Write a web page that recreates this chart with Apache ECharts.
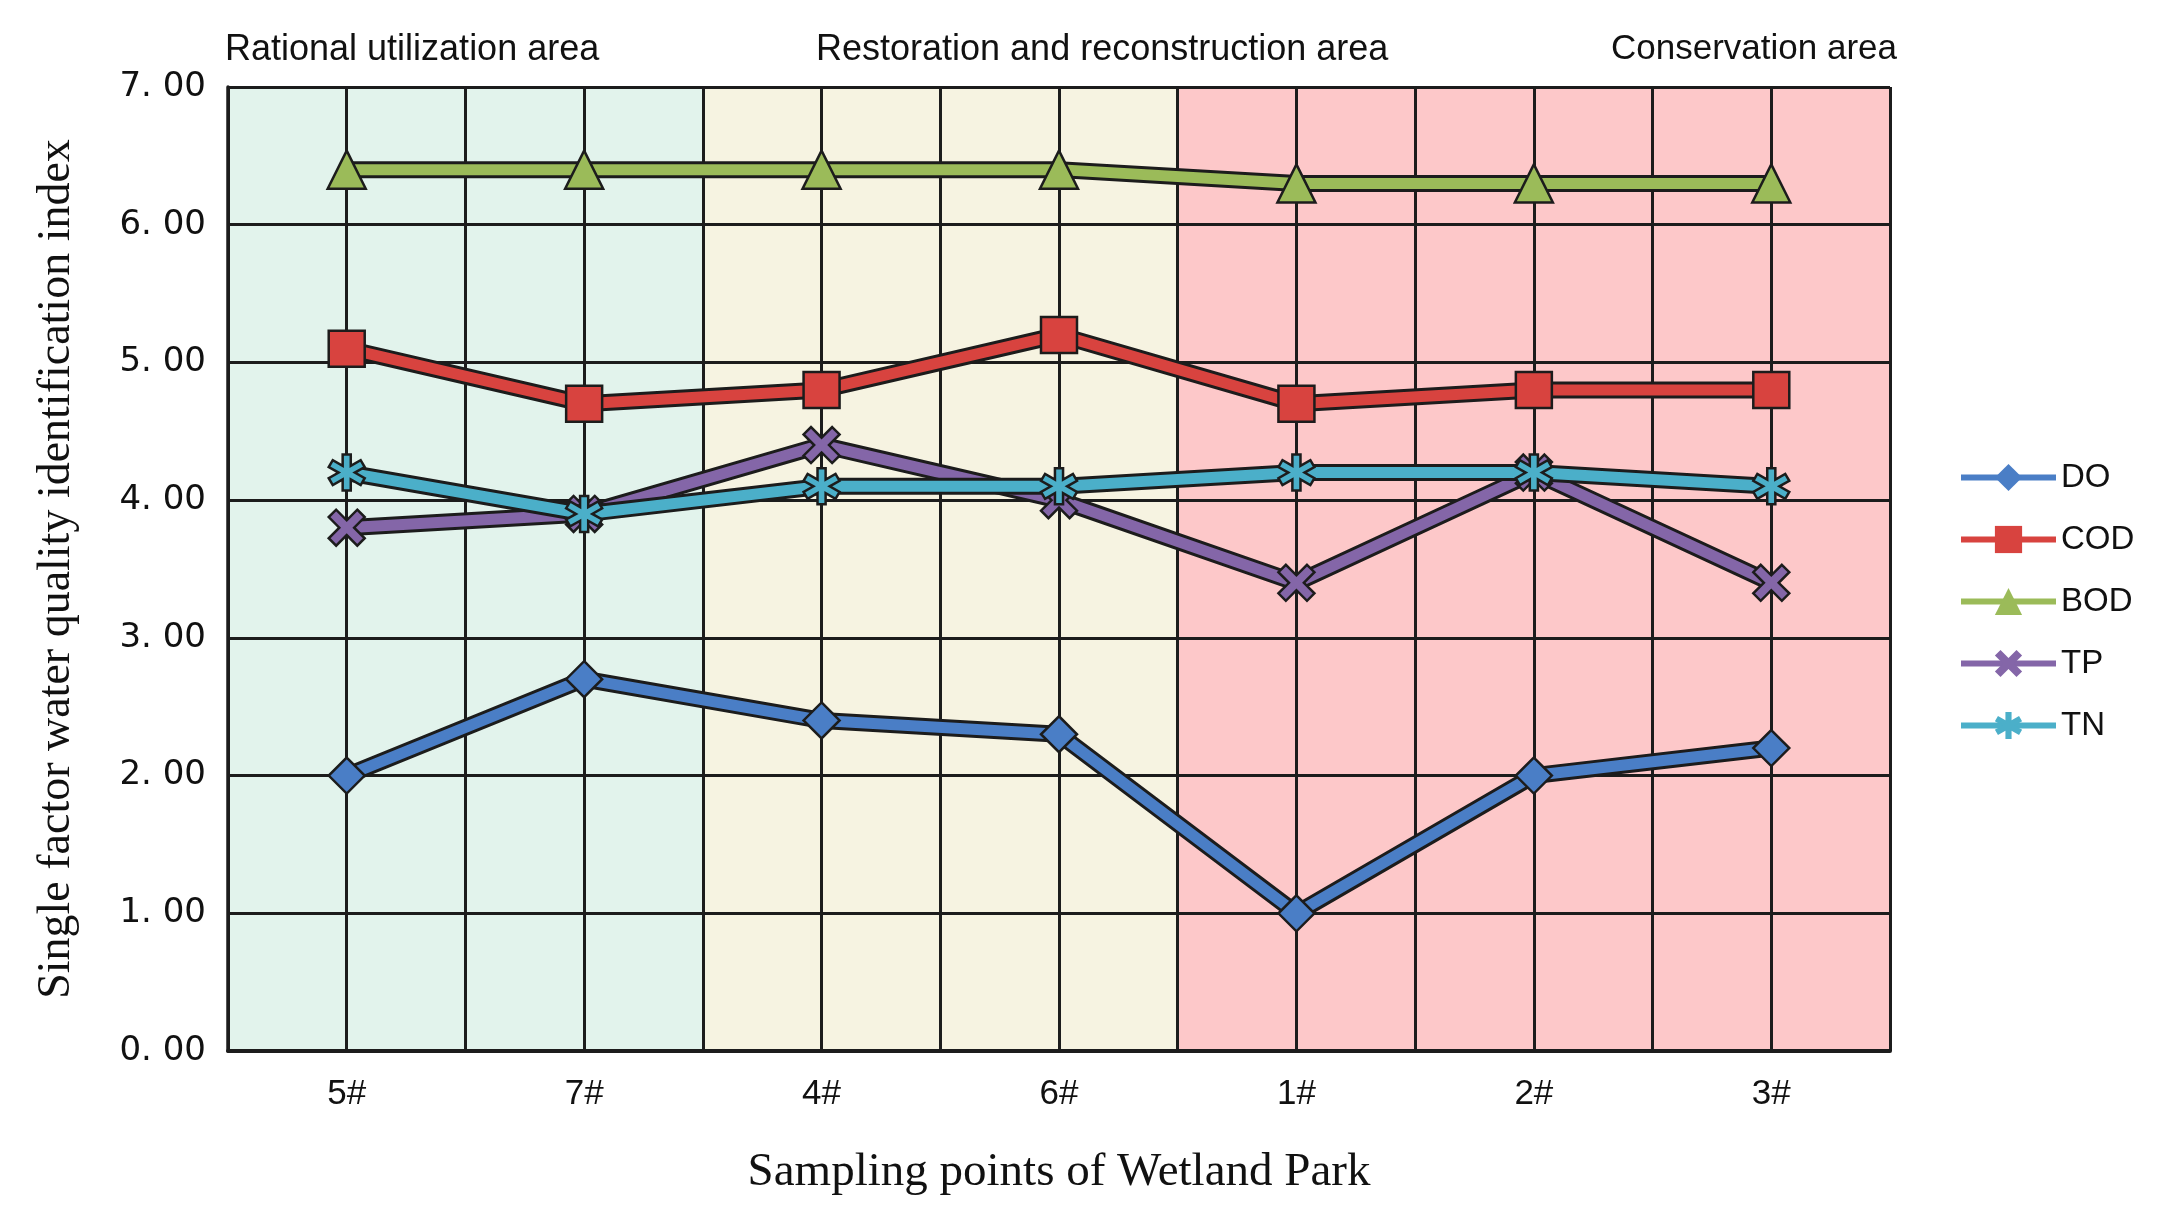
<!DOCTYPE html>
<html>
<head>
<meta charset="utf-8">
<script src="https://cdn.jsdelivr.net/npm/echarts@6/dist/echarts.min.js"></script>
<style>
html,body{margin:0;padding:0;background:#fff;}
#chart{width:2168px;height:1224px;}
</style>
</head>
<body>
<div id="chart"></div>
<script>
// ---- data ----
const categories = ['5#', '7#', '4#', '6#', '1#', '2#', '3#'];
const DO  = [2.0, 2.7, 2.4, 2.3, 1.0, 2.0, 2.2];
const COD = [5.1, 4.7, 4.8, 5.2, 4.7, 4.8, 4.8];
const BOD = [6.4, 6.4, 6.4, 6.4, 6.3, 6.3, 6.3];
const TP  = [3.8, 3.9, 4.4, 4.0, 3.4, 4.2, 3.4];
const TN  = [4.2, 3.9, 4.1, 4.1, 4.2, 4.2, 4.1];
const seriesNames = ['DO', 'COD', 'BOD', 'TP', 'TN'];
const seriesValues = [DO, COD, BOD, TP, TN];
const areaNames = ['Rational utilization area', 'Restoration and reconstruction area', 'Conservation area'];
// zone extents in category units (start, end)
const zoneStart = [0, 2, 4];
const zoneEnd = [2, 4, 7];
const yTicks = [0, 1, 2, 3, 4, 5, 6, 7];

// ---- styles ----
const colors = ['#4a7ec6', '#d8433f', '#9bbb59', '#8466a8', '#4bafc9'];
const zoneColors = ['#e2f3ec', '#f6f3e1', '#fdc8c9'];
const outline = '#1c1c1c';

function starPath(arms, L, w) {
  const pts = [];
  const step = 2 * Math.PI / arms;
  const inner = w / Math.sin(step / 2);
  for (let i = 0; i < arms; i++) {
    const a = -Math.PI / 2 + (arms === 4 ? Math.PI / 4 : 0) + i * step;
    const dx = Math.cos(a), dy = Math.sin(a);
    const px = -dy, py = dx;
    pts.push([50 + L * dx - w * px, 50 + L * dy - w * py]);
    pts.push([50 + L * dx + w * px, 50 + L * dy + w * py]);
    const b = a + step / 2;
    pts.push([50 + inner * Math.cos(b), 50 + inner * Math.sin(b)]);
  }
  return 'path://M' + pts.map(p => p[0].toFixed(2) + ',' + p[1].toFixed(2)).join(' L') + ' Z';
}
const symbols = ['diamond', 'rect', 'triangle', starPath(4, 50, 13), starPath(6, 50, 11)];
const symbolSizes = [36, 36, 38, 36, 36];

const series = [];
series.push({
  name: 'zones', type: 'line', xAxisIndex: 1, yAxisIndex: 0, data: [], silent: true, z: 0,
  markArea: {
    silent: true, z: 0,
    data: zoneStart.map((s, i) => [{ xAxis: s, itemStyle: { color: zoneColors[i] } }, { xAxis: zoneEnd[i] }])
  }
});
seriesNames.forEach((n, i) => {
  series.push({
    name: n + '_outline', type: 'line', data: seriesValues[i], symbol: 'none', silent: true,
    lineStyle: { color: outline, width: 17 }, z: 5 + i * 2, animation: false
  });
  series.push({
    name: n, type: 'line', data: seriesValues[i], symbol: symbols[i], symbolSize: symbolSizes[i],
    itemStyle: { color: colors[i], borderColor: outline, borderWidth: 2.5 },
    lineStyle: { color: colors[i], width: 11 }, z: 6 + i * 2, animation: false
  });
});

const chart = echarts.init(document.getElementById('chart'));
chart.setOption({
  animation: false,
  backgroundColor: '#ffffff',
  grid: { left: 228, right: 278, top: 87, bottom: 173 },
  legend: {
    data: seriesNames, orient: 'vertical', left: 1953, top: 456,
    itemWidth: 95, itemHeight: 34, itemGap: 29,
    textStyle: { fontFamily: 'Liberation Sans', fontSize: 33, color: '#111' },
    itemStyle: { borderWidth: 0 }, lineStyle: { width: 6 }
  },
  xAxis: [{
    type: 'category', data: categories, boundaryGap: true, z: 3,
    axisLine: { lineStyle: { color: outline, width: 4 } },
    axisTick: { show: false },
    axisLabel: { fontFamily: 'Liberation Sans', fontSize: 35, color: '#111', margin: 26 },
    splitLine: { show: false },
    name: 'Sampling points of Wetland Park', nameLocation: 'middle', nameGap: 98,
    nameTextStyle: { fontFamily: 'Liberation Serif', fontSize: 47, color: '#111' }
  }, {
    type: 'value', min: 0, max: 7, interval: 0.5, position: 'top', z: 3,
    axisLine: { show: false }, axisTick: { show: false }, axisLabel: { show: false },
    splitLine: { show: true, lineStyle: { color: outline, width: 3 } }
  }],
  yAxis: {
    type: 'value', min: yTicks[0], max: yTicks[yTicks.length - 1], interval: 1, z: 3,
    axisLine: { show: true, lineStyle: { color: outline, width: 3.5 } },
    axisTick: { show: false },
    axisLabel: { fontFamily: 'DejaVu Sans', fontSize: 34, color: '#111', margin: 22,
      formatter: v => v.toFixed(2).replace('.', '. ') },
    splitLine: { show: true, lineStyle: { color: outline, width: 3 } },
    name: 'Single factor water quality identification index', nameLocation: 'middle', nameGap: 148,
    nameTextStyle: { fontFamily: 'Liberation Serif', fontSize: 46, color: '#111' }
  },
  graphic: [
    { type: 'text', left: 225, top: 32, style: { text: areaNames[0], font: '36px "Liberation Sans"', fill: '#111' } },
    { type: 'text', left: 816, top: 32, style: { text: areaNames[1], font: '36px "Liberation Sans"', fill: '#111' } },
    { type: 'text', right: 271, top: 32, style: { text: areaNames[2], font: '35px "Liberation Sans"', fill: '#111' } }
  ],
  series: series
});
</script>
</body>
</html>
